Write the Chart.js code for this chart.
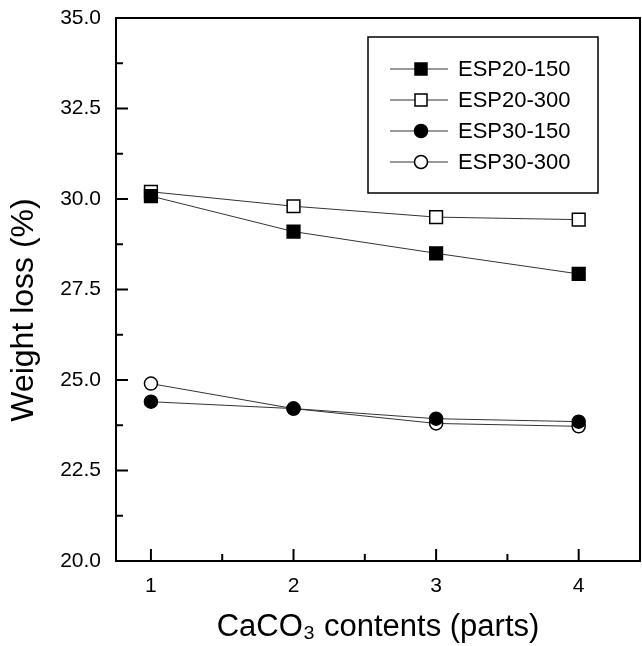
<!DOCTYPE html>
<html>
<head>
<meta charset="utf-8">
<script src="https://cdn.jsdelivr.net/npm/chart.js@4/dist/chart.umd.min.js"></script>
<style>
  html, body { margin: 0; padding: 0; background: #fff; }
  #wrap { width: 642px; height: 646px; }
</style>
</head>
<body>
<div id="wrap"><canvas id="grafica" width="642" height="646"></canvas></div>
<script>
// datos
const contenidos = [1, 2, 3, 4];
const esp20_150 = [30.08, 29.10, 28.50, 27.93];
const esp20_300 = [30.20, 29.80, 29.50, 29.43];
const esp30_150 = [24.40, 24.21, 23.93, 23.85];
const esp30_300 = [24.90, 24.21, 23.80, 23.72];
const nombres = ['ESP20-150', 'ESP20-300', 'ESP30-150', 'ESP30-300'];

const ticksX = [1, 1.5, 2, 2.5, 3, 3.5, 4];
const ticksY = [20, 21.25, 22.5, 23.75, 25, 26.25, 27.5, 28.75, 30, 31.25, 32.5, 33.75, 35];

const tituloX = 'CaCO₃ contents (parts)';
const tituloY = 'Weight loss (%)';

const FUENTE = 'Arial, "Liberation Sans", sans-serif';

function serie(valores) {
    return contenidos.map((x, i) => ({ x: x, y: valores[i] }));
}

// estilo de marcador por serie
const marcas = [
    { estilo: 'rect', relleno: '#000', radio: 9 },
    { estilo: 'rect', relleno: '#fff', radio: 9 },
    { estilo: 'circle', relleno: '#000', radio: 6.5 },
    { estilo: 'circle', relleno: '#fff', radio: 6.5 }
];

const valores = [esp20_150, esp20_300, esp30_150, esp30_300];

const datasets = valores.map((v, i) => ({
    label: nombres[i],
    data: serie(v),
    showLine: true,
    borderColor: '#333',
    borderWidth: 1,
    pointStyle: marcas[i].estilo,
    pointRadius: marcas[i].radio,
    pointBackgroundColor: marcas[i].relleno,
    pointBorderColor: '#000',
    pointBorderWidth: 1.5
}));

// marco, ticks hacia adentro, titulo Y y leyenda
const marcoPlugin = {
    id: 'marco',
    afterDraw(chart) {
        const ctx = chart.ctx;
        const a = chart.chartArea;
        const sx = chart.scales.x, sy = chart.scales.y;
        ctx.save();
        ctx.strokeStyle = '#000';
        ctx.lineWidth = 2;
        ctx.strokeRect(a.left, a.top, a.right - a.left, a.bottom - a.top);

        ticksX.forEach(v => {
            const px = sx.getPixelForValue(v);
            const largo = Number.isInteger(v) ? 12 : 7;
            ctx.beginPath();
            ctx.moveTo(px, a.bottom);
            ctx.lineTo(px, a.bottom - largo);
            ctx.stroke();
        });
        ticksY.forEach(v => {
            const py = sy.getPixelForValue(v);
            const largo = (v % 2.5 === 0) ? 12 : 7;
            ctx.beginPath();
            ctx.moveTo(a.left, py);
            ctx.lineTo(a.left + largo, py);
            ctx.stroke();
        });

        // titulo del eje Y (un poco por debajo del centro, como el original)
        ctx.save();
        ctx.translate(24, 310);
        ctx.rotate(-Math.PI / 2);
        ctx.font = '32px ' + FUENTE;
        ctx.textAlign = 'center';
        ctx.textBaseline = 'middle';
        ctx.fillStyle = '#000';
        ctx.fillText(tituloY, 0, 0);
        ctx.restore();

        // leyenda
        const lx = a.left + 252, ly = a.top + 19, lw = 230, lh = 156;
        ctx.lineWidth = 1.5;
        ctx.strokeRect(lx, ly, lw, lh);
        ctx.font = '22px ' + FUENTE;
        ctx.textBaseline = 'middle';
        datasets.forEach((d, i) => {
            const y = ly + 32 + i * 31;
            ctx.strokeStyle = '#333';
            ctx.lineWidth = 1;
            ctx.beginPath();
            ctx.moveTo(lx + 22, y);
            ctx.lineTo(lx + 80, y);
            ctx.stroke();
            ctx.strokeStyle = '#000';
            ctx.lineWidth = 1.5;
            ctx.fillStyle = marcas[i].relleno;
            ctx.beginPath();
            if (marcas[i].estilo === 'rect') {
                ctx.rect(lx + 47, y - 6, 12, 12);
            } else {
                ctx.arc(lx + 53, y, 6.5, 0, Math.PI * 2);
            }
            ctx.fill();
            ctx.stroke();
            ctx.fillStyle = '#000';
            ctx.fillText(d.label, lx + 90, y + 1);
        });
        ctx.restore();
    }
};

new Chart(document.getElementById('grafica'), {
    type: 'scatter',
    data: { datasets: datasets },
    plugins: [marcoPlugin],
    options: {
        responsive: false,
        animation: false,
        layout: { autoPadding: false, padding: { top: 18, right: 2, left: 0, bottom: 0 } },
        plugins: { legend: { display: false }, tooltip: { enabled: false } },
        scales: {
            x: {
                type: 'linear',
                min: 0.755,
                max: 4.43,
                afterBuildTicks: s => { s.ticks = ticksX.map(v => ({ value: v })); },
                afterFit: s => { s.height = 85; s.paddingLeft = 0; s.paddingRight = 0; },
                grid: { display: false, drawTicks: false },
                border: { display: false },
                ticks: {
                    padding: 13,
                    color: '#000',
                    font: { family: FUENTE, size: 21 },
                    callback: v => Number.isInteger(v) ? String(v) : ''
                },
                title: {
                    display: true,
                    text: tituloX,
                    color: '#000',
                    font: { family: FUENTE, size: 31 },
                    padding: { top: 0, bottom: 0 }
                }
            },
            y: {
                type: 'linear',
                min: 20,
                max: 35,
                afterBuildTicks: s => { s.ticks = ticksY.map(v => ({ value: v })); },
                afterFit: s => { s.width = 116; s.paddingTop = 0; s.paddingBottom = 0; },
                grid: { display: false, drawTicks: false },
                border: { display: false },
                ticks: {
                    padding: 15,
                    color: '#000',
                    font: { family: FUENTE, size: 21 },
                    callback: v => (v % 2.5 === 0) ? v.toFixed(1) : ''
                },
                title: { display: false }
            }
        }
    }
});
</script>
</body>
</html>
